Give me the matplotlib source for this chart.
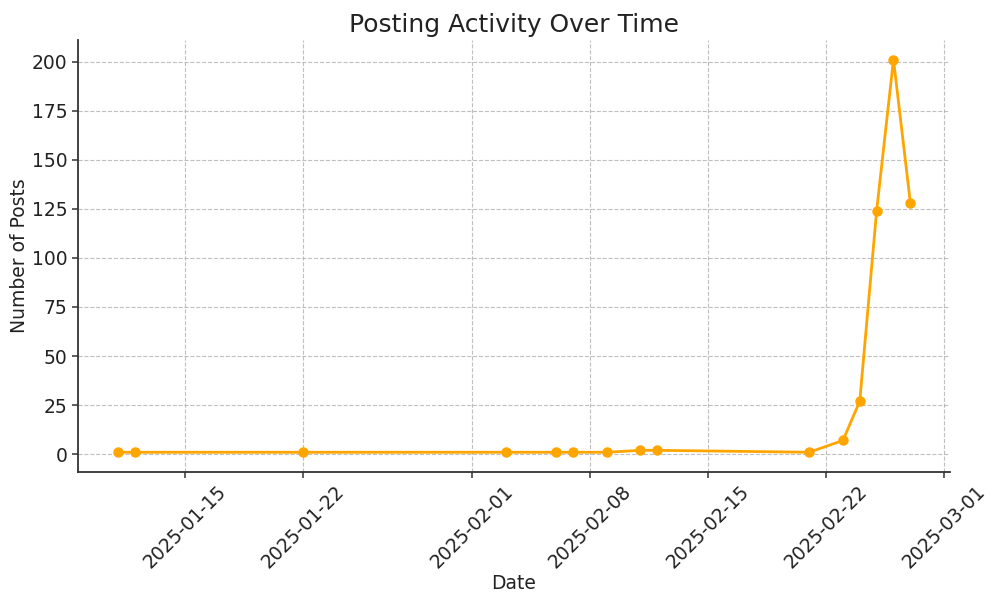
import matplotlib
matplotlib.use("Agg")
import matplotlib.pyplot as plt
import matplotlib.dates as mdates
import pandas as pd

dates = ["2025-01-11", "2025-01-12", "2025-01-22", "2025-02-03", "2025-02-06",
         "2025-02-07", "2025-02-09", "2025-02-11", "2025-02-12", "2025-02-21",
         "2025-02-23", "2025-02-24", "2025-02-25", "2025-02-26", "2025-02-27"]
posts = [1, 1, 1, 1, 1, 1, 1, 2, 2, 1, 7, 27, 124, 201, 128]
tick_dates = ["2025-01-15", "2025-01-22", "2025-02-01", "2025-02-08",
              "2025-02-15", "2025-02-22", "2025-03-01"]

x = pd.to_datetime(dates)

fig, ax = plt.subplots(figsize=(10, 6.05), dpi=100)
ax.plot(x, posts, marker="o", color="orange", linewidth=2, markersize=6.5)
ax.set_title("Posting Activity Over Time", fontsize=18, color="#222222")
ax.set_xlabel("Date", fontsize=13.5, color="#222222", labelpad=1)
ax.set_ylabel("Number of Posts", fontsize=13.5, color="#222222", labelpad=2)
ax.grid(True, linestyle="--", color="#b0b0b0", alpha=0.8, linewidth=0.8)
ax.spines["top"].set_visible(False)
ax.spines["right"].set_visible(False)
for s in ("left", "bottom"):
    ax.spines[s].set_linewidth(1.3)
    ax.spines[s].set_color("#333333")
ax.tick_params(colors="#333333", labelcolor="#222222", width=1.1, length=4)
ax.set_xticks(pd.to_datetime(tick_dates))
ax.xaxis.set_major_formatter(mdates.DateFormatter("%Y-%m-%d"))
plt.setp(ax.get_xticklabels(), rotation=45, fontsize=13.5)
plt.setp(ax.get_yticklabels(), fontsize=13.5)
ax.set_yticks(range(0, 201, 25))
fig.subplots_adjust(left=0.078, right=0.95, top=0.934, bottom=0.22)
fig.savefig("out.png", dpi=100)
